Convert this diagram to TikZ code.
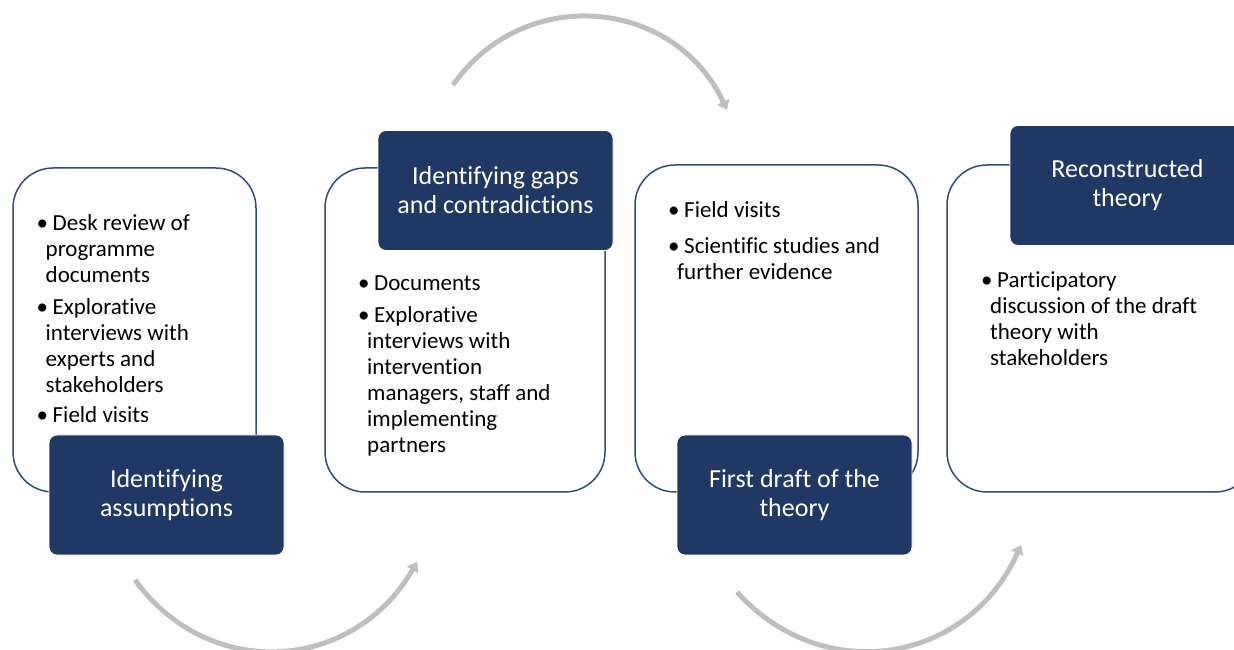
\documentclass[tikz,border=0pt]{standalone}
\usepackage{fontspec}
\setmainfont[Ligatures=NoCommon]{Carlito}
\usetikzlibrary{arrows.meta}

\definecolor{navy}{HTML}{203864}
\definecolor{frame}{HTML}{2F4D7E}
\definecolor{arc}{HTML}{BFBFBF}

% bullet and continuation indent for the lists
\newcommand{\itm}{\strut\makebox[16pt][l]{\textbullet}}
\newcommand{\cnt}{\hspace*{9pt}}

\begin{document}
\begin{tikzpicture}[x=1pt,y=1pt,
    box/.style={draw=frame,line width=1.5pt,rounded corners=40pt,fill=white,inner sep=0},
    head/.style={fill=navy,draw=white,line width=0.8pt,rounded corners=8pt,text=white,
        align=center,font=\fontsize{26}{29}\selectfont,
        minimum width=235pt,minimum height=120pt,inner sep=0},
    list/.style={anchor=north west,align=left,inner sep=0,font=\fontsize{23}{26}\selectfont},
    turn/.style={draw=arc,line width=5pt,looseness=1.15,-{Triangle[length=9pt,width=13pt]}}]
    \useasboundingbox (0,0) rectangle (1234,650);
    \clip (0,0) rectangle (1234,650);

    % outlined boxes
    \node[box,minimum width=243pt,minimum height=324pt] (b1) at (134.5,320) {};
    \node[box,minimum width=280pt,minimum height=324pt] (b2) at (465,320) {};
    \node[box,minimum width=283pt,minimum height=327pt] (b3) at (776.5,321.5) {};
    \node[box,minimum width=308pt,minimum height=327pt] (b4) at (1101,321.5) {};

    % lists
    \node[list] (l1) at (36.5,438.2) {\itm Desk review of\\ \cnt programme\\ \cnt documents\\[6pt]
        \itm Explorative\\ \cnt interviews with\\ \cnt experts and\\ \cnt stakeholders\\[4pt]
        \itm Field visits};
    \node[list] (l2) at (358,378.2) {\itm Documents\\[6pt]
        \itm Explorative\\ \cnt interviews with\\ \cnt intervention\\ \cnt managers, staff and\\
        \cnt implementing\\ \cnt partners};
    \node[list] (l3) at (668,451.2) {\itm Field visits\\[10pt]
        \itm Scientific studies and\\ \cnt further evidence};
    \node[list] (l4) at (981,381.2) {\itm Participatory\\ \cnt discussion of the draft\\
        \cnt theory with\\ \cnt stakeholders};

    % step titles
    \node[head] (h1) at (166.5,155) {Identifying\\ assumptions};
    \node[head] (h2) at (495.5,459.5) {Identifying gaps\\ and contradictions};
    \node[head] (h3) at (794.5,155) {First draft of the\\ theory};
    \node[head] (h4) at (1127.5,464.5) {Reconstructed\\ theory};

    % curved arrows between steps
    \coordinate (a1) at (135,70);
    \coordinate (a2) at (417,88);
    \coordinate (a3) at (453,565);
    \coordinate (a4) at (727,540);
    \coordinate (a5) at (737,58);
    \coordinate (a6) at (1021,105);
    \draw[turn] (a1) to[out=-54,in=-120] (a2);
    \draw[turn] (a3) to[out=55,in=115] (a4);
    \draw[turn] (a5) to[out=-48,in=-114] (a6);
\end{tikzpicture}
\end{document}
